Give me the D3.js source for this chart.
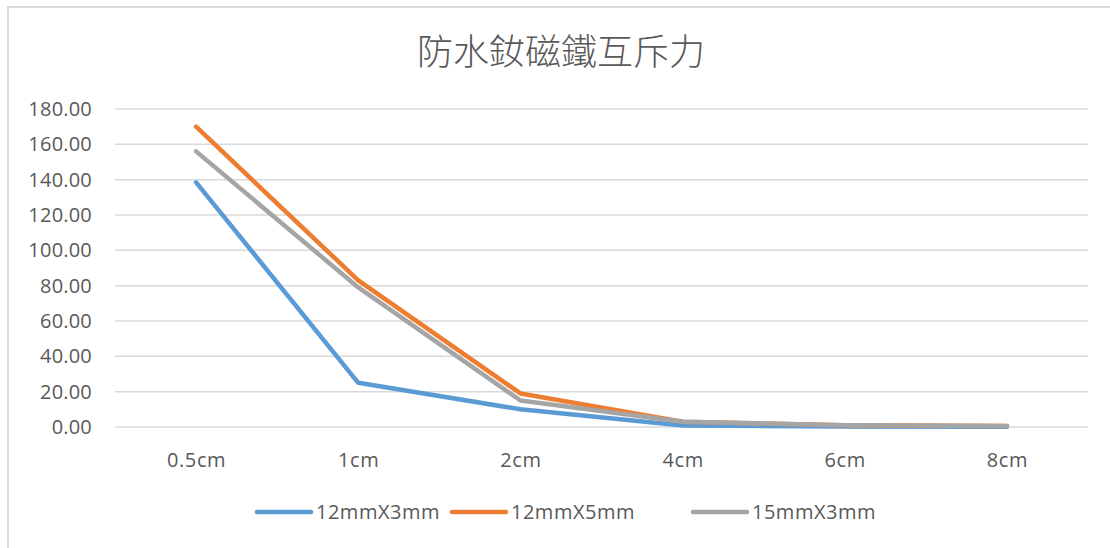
<!DOCTYPE html>
<html>
<head>
<meta charset="utf-8">
<script src="https://cdn.jsdelivr.net/npm/d3@7"></script>
<style>
  html, body { margin: 0; padding: 0; background: #ffffff; }
  svg { display: block; }
</style>
</head>
<body>
<svg id="chart" width="1110" height="548"></svg>
<script>
// Distances between the two magnets
const categories = ["0.5cm", "1cm", "2cm", "4cm", "6cm", "8cm"];

// Repulsive force per magnet size
const series12x3 = [138.5, 25, 10, 0.8, 0.3, 0.2];
const series12x5 = [170, 83, 19, 3, 1, 0.6];
const series15x3 = [156, 79, 15, 3, 1, 0.6];

const seriesNames = ["12mmX3mm", "12mmX5mm", "15mmX3mm"];
const seriesColors = ["#5B9BD5", "#ED7D31", "#A5A5A5"];
const yTicks = [0, 20, 40, 60, 80, 100, 120, 140, 160, 180];

const titleText = "防水釹磁鐵互斥力";

const series = [series12x3, series12x5, series15x3];

const W = 1110, H = 548;
const plot = { left: 115, right: 1088, top: 109, bottom: 427 };
const labelFont = "'Open Sans', 'Noto Sans', sans-serif";
const textColor = "#595959";

const svg = d3.select("#chart");

// Chart frame
svg.append("path")
  .attr("d", `M8,${H} L8,7 L${W},7`)
  .attr("fill", "none")
  .attr("stroke", "#D9D9D9")
  .attr("stroke-width", 2);

const x = d3.scalePoint()
  .domain(categories)
  .range([plot.left, plot.right])
  .padding(0.5);

const y = d3.scaleLinear()
  .domain([0, 180])
  .range([plot.bottom, plot.top]);

// Horizontal gridlines
svg.append("g")
  .selectAll("line")
  .data(yTicks)
  .join("line")
  .attr("x1", plot.left)
  .attr("x2", plot.right)
  .attr("y1", d => y(d))
  .attr("y2", d => y(d))
  .attr("stroke", "#D9D9D9")
  .attr("stroke-width", 1.5);

// Y axis labels
const yAxis = d3.axisLeft(y)
  .tickValues(yTicks)
  .tickFormat(d3.format(".2f"))
  .tickSize(0)
  .tickPadding(0);

const yG = svg.append("g")
  .attr("transform", `translate(92,0)`)
  .call(yAxis);
yG.select(".domain").remove();
yG.selectAll("text")
  .attr("fill", textColor)
  .style("font-family", labelFont)
  .style("font-size", "20px")
  .style("letter-spacing", "0.2px");

// X axis labels
const xAxis = d3.axisBottom(x).tickSize(0).tickPadding(0);
const xG = svg.append("g")
  .attr("transform", `translate(0,${plot.bottom})`)
  .call(xAxis);
xG.select(".domain").remove();
xG.selectAll("text")
  .attr("y", 40)
  .attr("dy", 0)
  .attr("fill", textColor)
  .style("font-family", labelFont)
  .style("font-size", "20px")
  .style("letter-spacing", "0.6px");

// Series lines
const line = d3.line()
  .x((d, i) => x(categories[i]))
  .y(d => y(d));

svg.append("g")
  .selectAll("path")
  .data(series)
  .join("path")
  .attr("d", d => line(d))
  .attr("fill", "none")
  .attr("stroke", (d, i) => seriesColors[i])
  .attr("stroke-width", 4.5)
  .attr("stroke-linejoin", "round")
  .attr("stroke-linecap", "round");

// Title
svg.append("text")
  .attr("x", 561)
  .attr("y", 65)
  .attr("text-anchor", "middle")
  .attr("fill", textColor)
  .style("font-family", "'Noto Sans CJK TC', 'Noto Sans CJK SC', sans-serif")
  .style("font-weight", 300)
  .style("font-size", "36px")
  .text(titleText);

// Legend
const legendX = [257, 452, 693];
const legend = svg.append("g")
  .selectAll("g")
  .data(seriesNames)
  .join("g")
  .attr("transform", (d, i) => `translate(${legendX[i]},512)`);

legend.append("line")
  .attr("x1", 0)
  .attr("x2", 54)
  .attr("y1", 0)
  .attr("y2", 0)
  .attr("stroke", (d, i) => seriesColors[i])
  .attr("stroke-width", 4.5)
  .attr("stroke-linecap", "round");

legend.append("text")
  .attr("x", 59)
  .attr("y", 7)
  .attr("fill", textColor)
  .style("font-family", labelFont)
  .style("font-size", "20px")
  .style("letter-spacing", "0.5px")
  .text(d => d);
</script>
</body>
</html>
